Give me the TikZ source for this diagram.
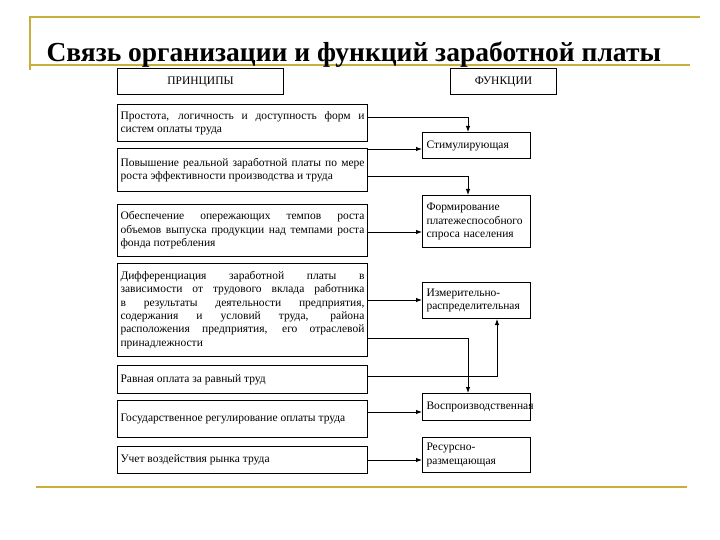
\documentclass[tikz,border=0pt]{standalone}
\usepackage{fontspec}
\setmainfont{Liberation Serif}
\usetikzlibrary{arrows.meta}
\begin{document}
\begin{tikzpicture}[x=1pt,y=-1pt,
  lbox/.style={draw,line width=1pt,anchor=north west,minimum width=250pt,text width=244pt,align=justify,font=\fontsize{11.5}{13.4}\selectfont,inner sep=2pt},
  rbox/.style={draw,line width=1pt,anchor=north west,minimum width=108pt,text width=100pt,align=left,font=\fontsize{11.5}{13.4}\selectfont,inner sep=3pt},
  arr/.style={-{Latex[length=6pt,width=4.5pt]},line width=0.9pt}]
\useasboundingbox (0,0) rectangle (720,540);
\definecolor{gold}{RGB}{200,175,60}
\draw[gold,line width=1.5pt] (30,70) -- (30,17) -- (700,17);
\draw[gold,line width=1.5pt] (30,65) -- (690,65);
\draw[gold,line width=2pt] (36,487) -- (687,487);
\node[font=\fontsize{27.5}{30}\selectfont\bfseries,anchor=base west] (title) at (43,62) {Связь организации и функций заработной платы};
\node[draw,line width=1pt,anchor=north west,minimum width=166pt,minimum height=26pt,font=\fontsize{11.5}{13}\selectfont] (hp) at (117,68) {ПРИНЦИПЫ};
\node[draw,line width=1pt,anchor=north west,minimum width=106pt,minimum height=26pt,font=\fontsize{11.5}{13}\selectfont] (hf) at (450,68) {ФУНКЦИИ};
\node[lbox,minimum height=37pt] (p1) at (117,104) {Простота, логичность и доступность форм и систем оплаты труда};
\node[lbox,minimum height=43pt] (p2) at (117,148) {Повышение реальной заработной платы по мере роста эффективности производства и труда};
\node[lbox,minimum height=52pt] (p3) at (117,204) {Обеспечение опережающих темпов роста объемов выпуска продукции над темпами роста фонда потребления};
\node[lbox,minimum height=93pt] (p4) at (117,263) {Дифференциация заработной платы в зависимости от трудового вклада работника в результаты деятельности предприятия, содержания и условий труда, района расположения предприятия, его отраслевой принадлежности};
\node[lbox,minimum height=28pt] (p5) at (117,365) {Равная оплата за равный труд};
\node[lbox,minimum height=37pt] (p6) at (117,400) {Государственное регулирование оплаты труда};
\node[lbox,minimum height=27pt] (p7) at (117,446) {Учет воздействия рынка труда};
\node[rbox,minimum height=26pt] (f1) at (422,132) {Стимулирующая};
\node[rbox,minimum height=52pt] (f2) at (422,195) {Формирование платежеспособного спроса населения};
\node[rbox,minimum height=36pt] (f3) at (422,282) {Измерительно-распределительная};
\node[rbox,minimum height=27pt] (f4) at (422,393) {Воспроизводственная};
\node[rbox,minimum height=35pt] (f5) at (422,437) {Ресурсно-размещающая};
\draw[arr] (p1.east |- 0,117) -| (f1.north -| 468,0);
\draw[arr] (p2.east |- 0,149) -- (f1.west |- 0,149);
\draw[arr] (p2.east |- 0,176) -| (f2.north -| 468,0);
\draw[arr] (p3.east |- 0,232) -- (f2.west |- 0,232);
\draw[arr] (p4.east |- 0,300) -- (f3.west |- 0,300);
\draw[arr] (p4.east |- 0,338) -| (f4.north -| 468,0);
\draw[arr] (p5.east |- 0,376) -| (f3.south -| 497,0);
\draw[arr] (p6.east |- 0,412) -- (f4.west |- 0,412);
\draw[arr] (p7.east |- 0,460) -- (f5.west |- 0,460);
\end{tikzpicture}
\end{document}
